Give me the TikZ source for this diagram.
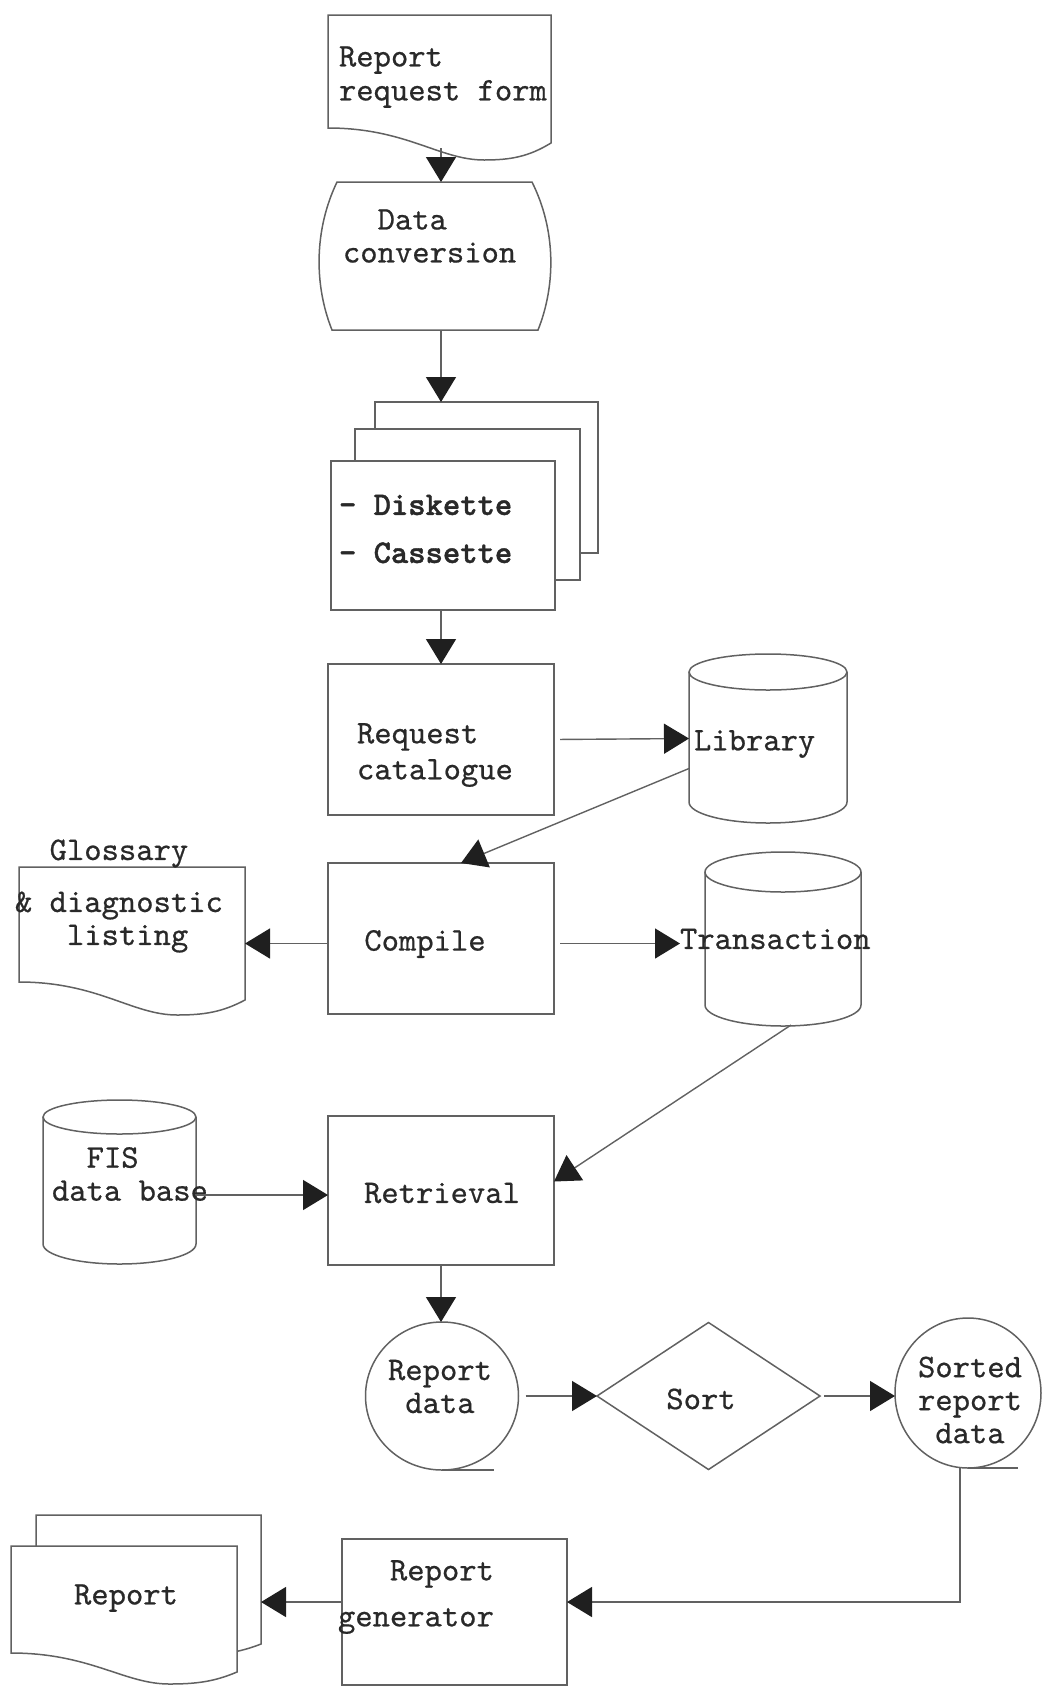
\documentclass[tikz,border=0pt]{standalone}
\usepackage{fontspec}
\usetikzlibrary{arrows.meta,shapes.geometric,calc}

\definecolor{linecol}{gray}{0.38}
\definecolor{textcol}{gray}{0.16}
\definecolor{tipcol}{gray}{0.12}

% typewriter lettering used for every label, a little heavier than the plain cut
\newfontfamily\twfam{lmmono10-regular.otf}[FakeBold=0.6, BoldFont=lmmonolt10-bold.otf, BoldFeatures={FakeBold=1.2}]
\newcommand\twfont{\twfam\fontsize{16.5pt}{16.5pt}\selectfont}

% document symbol: options, x-left, x-right, top, left end of wave, wave low point, right end of wave
\newcommand\docdraw[7]{%
  \draw[#1] (#2,#4) -- (#3,#4) -- (#3,#7)
    .. controls ({#3-0.1*(#3-#2)},{#7+0.8*(#6-#7)}) and ({#2+0.82*(#3-#2)},#6) .. ({#2+0.7*(#3-#2)},#6)
    .. controls ({#2+0.5*(#3-#2)},#6) and ({#2+0.35*(#3-#2)},#5) .. (#2,#5) -- cycle;}

\begin{document}
\begin{tikzpicture}[x=0.5pt,y=-0.5pt,
  shp/.style={draw=linecol, line width=0.75pt},
  box/.style={shp, rectangle, inner sep=0pt, outer sep=0pt},
  sheet/.style={shp, fill=white, line width=0.95pt, rectangle, inner sep=0pt, outer sep=0pt},
  area/.style={rectangle, draw=none, inner sep=0pt, outer sep=0pt},
  txt/.style={text=textcol, inner sep=0pt, outer sep=0pt, font=\twfont},
  arr/.style={draw=linecol, line width=0.7pt, -{Triangle[length=12.5pt,width=15pt,color=tipcol]}}]

\useasboundingbox (0,0) rectangle (1042,1688);

% ---------- outline areas used as connection targets ----------
\node[area, minimum width=111.5pt, minimum height=72.5pt] (rrf)  at (441,87.5) {};
\node[area, minimum width=116pt,   minimum height=74pt]   (dc)   at (441,256) {};
\node[area, minimum width=79pt,    minimum height=84.5pt] (lib)  at (768,738.5) {};
\node[area, minimum width=78pt,    minimum height=86.5pt] (trans) at (783,938.5) {};
\node[area, minimum width=76.5pt,  minimum height=82pt]   (fis)  at (119.5,1182) {};
\node[area, minimum width=113pt,   minimum height=74pt]   (gloss) at (132,941) {};
\node[area, minimum width=112.5pt, minimum height=70pt]   (repb) at (148.5,1585) {};

% ---------- report request form ----------
\docdraw{shp}{328}{551}{15}{128}{160}{143}
\node[txt, anchor=west, align=left] (rrft) at (339,77) {Report\\[0.5pt]request form};

% ---------- data conversion ----------
\draw[shp] (337,182) -- (532,182) .. controls (556,230) and (556,285) .. (538,330)
  -- (332,330) .. controls (314,285) and (314,230) .. (337,182) -- cycle;
\node[txt, anchor=west, align=left] (dct) at (343,236) {~~Data\\conversion};

% ---------- diskette / cassette stack ----------
\node[sheet, minimum width=111.5pt, minimum height=75.5pt] (dback) at (486.5,477.5) {};
\node[sheet, minimum width=112.5pt, minimum height=75.5pt] (dmid)  at (467.5,504.5) {};
\node[sheet, minimum width=112pt,   minimum height=74.5pt] (disk)  at (443,535.5) {};
\node[txt, anchor=west, align=left, font=\twfont\bfseries] (diskt) at (339,529)
  {- Diskette\\[7.5pt]- Cassette};

% ---------- request catalogue ----------
\node[box, minimum width=113pt, minimum height=75.5pt] (rc) at (441,739.5) {};
\node[txt, anchor=west, align=left] (rct) at (357,755) {Request\\[1.5pt]catalogue};

% ---------- library ----------
\draw[shp] (768,672) ellipse [x radius=39.5pt, y radius=9pt];
\draw[shp] (689,672) -- (689,802) arc [start angle=180, end angle=360, x radius=39.5pt, y radius=10.5pt] -- (847,672);
\node[txt, anchor=west] (libt) at (694,744) {Library};

% ---------- compile ----------
\node[box, minimum width=113pt, minimum height=75.5pt] (comp) at (441,938.5) {};
\node[txt] (compt) at (425,944) {Compile};

% ---------- glossary & diagnostic listing ----------
\docdraw{shp}{19}{245}{867}{982}{1015}{1000}
\node[txt, anchor=west, align=left] (glosst) at (15,896)
  {~~Glossary\\[9.5pt]\&~diagnostic\\~~~listing};

% ---------- transaction ----------
\draw[shp] (783,872) ellipse [x radius=39pt, y radius=10pt];
\draw[shp] (705,872) -- (705,1005) arc [start angle=180, end angle=360, x radius=39pt, y radius=10.5pt] -- (861,872);
\node[txt, anchor=west] (transt) at (680,939) {Transaction};

% ---------- FIS data base ----------
\draw[shp] (119.5,1117) ellipse [x radius=38.25pt, y radius=8.5pt];
\draw[shp] (43,1117) -- (43,1244) arc [start angle=180, end angle=360, x radius=38.25pt, y radius=10pt] -- (196,1117);
\node[txt, anchor=west, align=left] (fist) at (52,1174) {~~FIS\\data base};

% ---------- retrieval ----------
\node[box, minimum width=113pt, minimum height=74.5pt] (retr) at (441,1190.5) {};
\node[txt] (retrt) at (442,1193) {Retrieval};

% ---------- report data / sort / sorted report data ----------
\node[shp, ellipse, inner sep=0pt, outer sep=0pt, minimum width=76.5pt, minimum height=74pt] (rdata) at (442,1396) {};
\draw[shp] (rdata.south) -- ++(52,0);
\node[txt, align=center] (rdatat) at (440,1386.5) {Report\\data};

\node[shp, diamond, inner sep=0pt, outer sep=0pt, minimum width=111.5pt, minimum height=73.5pt] (sort) at (708.5,1396) {};
\node[txt] (sortt) at (701,1399) {Sort};

\node[shp, ellipse, inner sep=0pt, outer sep=0pt, minimum width=73pt, minimum height=75pt] (srd) at (968,1393) {};
\draw[shp] (srd.south) -- ++(50,0);
\node[txt, align=center] (srdt) at (970,1400) {Sorted\\report\\data};

% ---------- report generator ----------
\node[box, minimum width=112.5pt, minimum height=73pt] (rg) at (454.5,1612) {};
\node[txt, anchor=west, align=left] (rgt) at (338,1597) {~~~Report\\[6.5pt]generator};

% ---------- printed report (two sheets) ----------
\docdraw{shp, fill=white}{36}{261}{1515}{1622}{1655}{1644}
\docdraw{shp, fill=white}{11}{237}{1546}{1653}{1684}{1672}
\node[txt] (rept) at (126,1598) {Report};

% ---------- connectors ----------
\draw[arr] ([yshift=6pt]rrf.south) -- (dc.north);
\draw[arr] (dc.south) -- (dc.south |- dback.north);
\draw[arr] (rc.north |- disk.south) -- (rc.north);
\draw[arr, shorten <=3pt] (rc.east) -- (lib.west);
\draw[arr] ([yshift=-15pt]lib.west) -- ([xshift=10pt]comp.north);
\draw[arr] ([yshift=-2.5pt]comp.west) -- ([yshift=-2.5pt]comp.west -| gloss.east);
\draw[arr, shorten <=3pt] ([yshift=-2.5pt]comp.east) -- ([yshift=-2.5pt]comp.east -| transt.west);
\draw[arr] ([xshift=4pt]trans.south) -- ([yshift=4.5pt]retr.east);
\draw[arr] ([yshift=-6.5pt]fis.east) -- ([yshift=-6.5pt]fis.east -| retr.west);
\draw[arr] (retr.south) -- (retr.south |- rdata.north);
\draw[arr, shorten <=3.5pt] (rdata.east) -- (sort.west);
\draw[arr, shorten <=2pt] (sort.east) -- (sort.east -| srd.west);
\draw[arr] ([xshift=-4pt]srd.south) |- ([yshift=5pt]rg.east);
\draw[arr] ([yshift=5pt]rg.west) -- ([yshift=5pt]rg.west -| repb.east);

\end{tikzpicture}
\end{document}
